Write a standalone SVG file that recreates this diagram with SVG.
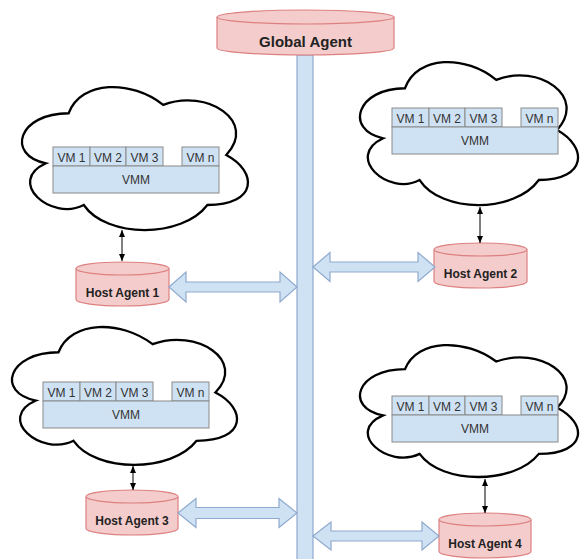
<svg xmlns="http://www.w3.org/2000/svg" width="580" height="559" viewBox="0 0 580 559">
<style>
.cloud{fill:#ffffff;stroke:#000000;stroke-width:2.3;vector-effect:non-scaling-stroke}
.vm{fill:#cfe2f3;stroke:#8a8a8a;stroke-width:1}
.vt{font-family:"Liberation Sans",Arial,sans-serif;font-size:12px;fill:#333333;text-anchor:middle}
.cyl{fill:#f4cccc;stroke:#dd8080;stroke-width:1.2}
.ct{font-family:"Liberation Sans",Arial,sans-serif;font-weight:bold;fill:#222222;text-anchor:middle}
.bar{fill:#cfe2f3;stroke:#8fa9cf;stroke-width:1.2}
.thin{stroke:#000000;stroke-width:1;fill:none;marker-start:url(#ah);marker-end:url(#ah)}
</style>
<defs>
<path id="cloudp" class="cloud" d="M250,250 C50,250 0,500 160,550 C0,660 180,900 310,800 C400,1000 700,1000 800,800 C1000,800 1000,600 875,500 C1000,300 800,100 625,200 C500,50 300,50 250,250 Z"/>
<marker id="ah" markerWidth="7" markerHeight="6" refX="7" refY="3" orient="auto-start-reverse" markerUnits="userSpaceOnUse">
<path d="M0,0 L7,3 L0,6 Z" fill="#000000"/>
</marker>
</defs>

<g id="bus">
<rect class="bar" x="297" y="55" width="16" height="510"/>
</g>

<g id="global-agent">
<path class="cyl" d="M217,17 A88.5,7 0 0 1 394,17 L394,48 A88.5,7 0 0 1 217,48 Z"/>
<path class="cyl" fill="none" d="M217,17 A88.5,7 0 0 0 394,17"/>
<text class="ct" x="305.5" y="47" font-size="15">Global Agent</text>
</g>

<g id="cloud-1">
<use href="#cloudp" transform="translate(5.6,71.5) scale(0.2522,0.1669)"/>
<rect class="vm" x="53" y="147" width="37" height="19"/><text class="vt" x="71.5" y="161.5">VM 1</text>
<rect class="vm" x="90" y="147" width="36" height="19"/><text class="vt" x="108" y="161.5">VM 2</text>
<rect class="vm" x="126" y="147" width="37" height="19"/><text class="vt" x="144.5" y="161.5">VM 3</text>
<rect class="vm" x="182" y="147" width="37" height="19"/><text class="vt" x="200.5" y="161.5">VM n</text>
<rect class="vm" x="53" y="166" width="166" height="27"/><text class="vt" x="136" y="183.5">VMM</text>
</g>

<g id="cloud-2">
<use href="#cloudp" transform="translate(344.2,46.5) scale(0.2433,0.1669)"/>
<rect class="vm" x="392" y="108" width="37" height="19"/><text class="vt" x="410.5" y="122.5">VM 1</text>
<rect class="vm" x="429" y="108" width="36" height="19"/><text class="vt" x="447" y="122.5">VM 2</text>
<rect class="vm" x="465" y="108" width="37" height="19"/><text class="vt" x="483.5" y="122.5">VM 3</text>
<rect class="vm" x="521" y="108" width="37" height="19"/><text class="vt" x="539.5" y="122.5">VM n</text>
<rect class="vm" x="392" y="127" width="166" height="27"/><text class="vt" x="475" y="144.5">VMM</text>
</g>

<g id="cloud-3">
<use href="#cloudp" transform="translate(-4.3,312) scale(0.2511,0.1610)"/>
<rect class="vm" x="43" y="382" width="37" height="19"/><text class="vt" x="61.5" y="396.5">VM 1</text>
<rect class="vm" x="80" y="382" width="36" height="19"/><text class="vt" x="98" y="396.5">VM 2</text>
<rect class="vm" x="116" y="382" width="37" height="19"/><text class="vt" x="134.5" y="396.5">VM 3</text>
<rect class="vm" x="172" y="382" width="37" height="19"/><text class="vt" x="190.5" y="396.5">VM n</text>
<rect class="vm" x="43" y="401" width="166" height="27"/><text class="vt" x="126" y="418.5">VMM</text>
</g>

<g id="cloud-4">
<use href="#cloudp" transform="translate(344.2,330.7) scale(0.2433,0.1540)"/>
<rect class="vm" x="392" y="396" width="37" height="19"/><text class="vt" x="410.5" y="410.5">VM 1</text>
<rect class="vm" x="429" y="396" width="36" height="19"/><text class="vt" x="447" y="410.5">VM 2</text>
<rect class="vm" x="465" y="396" width="37" height="19"/><text class="vt" x="483.5" y="410.5">VM 3</text>
<rect class="vm" x="521" y="396" width="37" height="19"/><text class="vt" x="539.5" y="410.5">VM n</text>
<rect class="vm" x="392" y="415" width="166" height="27"/><text class="vt" x="475" y="432.5">VMM</text>
</g>

<g id="host-agent-1">
<path class="cyl" d="M76,268.5 A46.5,6.5 0 0 1 169,268.5 L169,299.5 A46.5,6.5 0 0 1 76,299.5 Z"/>
<path class="cyl" fill="none" d="M76,268.5 A46.5,6.5 0 0 0 169,268.5"/>
<text class="ct" x="122.5" y="297" font-size="12">Host Agent 1</text>
</g>

<g id="host-agent-2">
<path class="cyl" d="M434,249.5 A46.5,6.5 0 0 1 527,249.5 L527,281.5 A46.5,6.5 0 0 1 434,281.5 Z"/>
<path class="cyl" fill="none" d="M434,249.5 A46.5,6.5 0 0 0 527,249.5"/>
<text class="ct" x="480.5" y="278" font-size="12">Host Agent 2</text>
</g>

<g id="host-agent-3">
<path class="cyl" d="M86,496.5 A46,6.5 0 0 1 178,496.5 L178,528.5 A46,6.5 0 0 1 86,528.5 Z"/>
<path class="cyl" fill="none" d="M86,496.5 A46,6.5 0 0 0 178,496.5"/>
<text class="ct" x="132" y="525" font-size="12">Host Agent 3</text>
</g>

<g id="host-agent-4">
<path class="cyl" d="M439,519.5 A46,6.5 0 0 1 531,519.5 L531,551.5 A46,6.5 0 0 1 439,551.5 Z"/>
<path class="cyl" fill="none" d="M439,519.5 A46,6.5 0 0 0 531,519.5"/>
<text class="ct" x="485" y="548" font-size="12">Host Agent 4</text>
</g>

<g id="connectors">
<line class="thin" x1="122" y1="230" x2="122" y2="261"/>
<line class="thin" x1="480" y1="207" x2="480" y2="243"/>
<line class="thin" x1="133" y1="466" x2="133" y2="490"/>
<line class="thin" x1="485" y1="479" x2="485" y2="513"/>
<path class="bar" d="M169,287 L186,272 L186,282 L280,282 L280,272 L297,287 L280,302 L280,292 L186,292 L186,302 Z"/>
<path class="bar" d="M313,267 L330,252.5 L330,262 L418,262 L418,252.5 L435,267 L418,281.5 L418,272 L330,272 L330,281.5 Z"/>
<path class="bar" d="M178,513 L196,498.5 L196,507.5 L279,507.5 L279,498.5 L297,513 L279,527.5 L279,518.5 L196,518.5 L196,527.5 Z"/>
<path class="bar" d="M313,536 L331,522 L331,531 L422,531 L422,522 L439,536 L422,550 L422,541 L331,541 L331,550 Z"/>
</g>
</svg>
